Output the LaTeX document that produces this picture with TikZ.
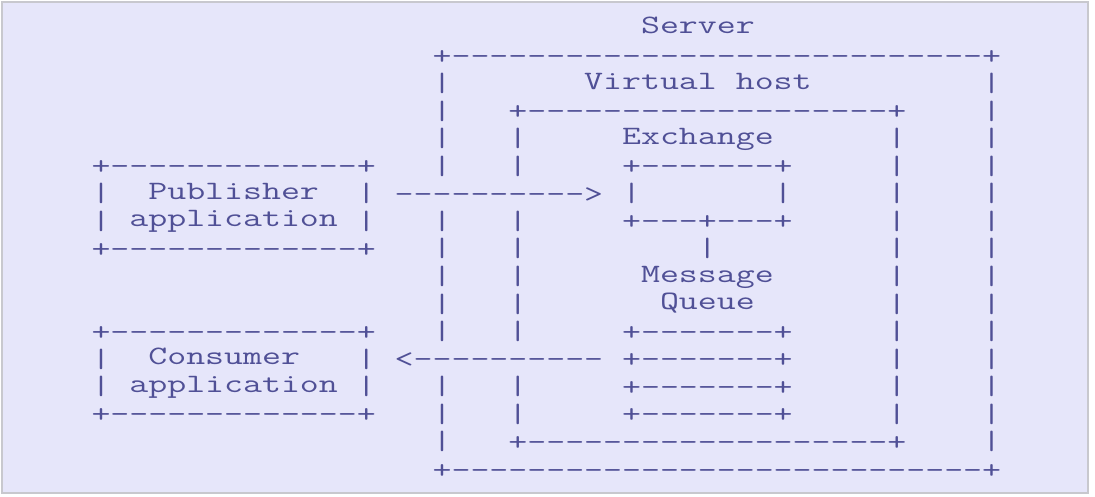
\documentclass[tikz,border=0pt]{standalone}
\usepackage{graphicx}
\ExplSyntaxOn
\cs_new:Npn \DashRun #1 { \prg_replicate:nn {#1} {-{}} }
\ExplSyntaxOff
\definecolor{ink}{RGB}{80,80,150}
\definecolor{lav}{RGB}{230,230,250}
\definecolor{frame}{RGB}{200,200,206}
\newlength\chw
\tikzset{
  asc/.style={anchor=base west, inner sep=0pt, outer sep=0pt, text=ink,
    font=\fontsize{26.5}{26.5}\selectfont\ttfamily},
  barc/.style={asc, anchor=center},
  panel/.style={fill=lav, draw=frame, line width=1.5pt}
}
% text fragment: name, column, row, text
\newcommand\frag[4]{\node[asc] (#1) at ({101+(#2)*18.95-9.475},{34+(#3)*27.5625}) {\scalebox{\sx}[1]{#4}};}
% border/arrow fragment (drawn a little lower)
\newcommand\lfrag[4]{\node[asc] (#1) at ({101+(#2)*18.95-9.475},{37+(#3)*27.5625}) {\scalebox{\sx}[1]{#4}};}
% vertical bar: name, column, row
\newcommand\vbar[3]{\node[barc] (#1) at ({101+(#2)*18.95},{28.3+(#3)*27.5625}) {\scalebox{\sx}[1]{|}};}
\begin{document}
\settowidth\chw{\fontsize{26.5}{26.5}\selectfont\ttfamily x}%
\pgfmathsetmacro\sx{18.95pt/\chw}%
\begin{tikzpicture}[x=1pt,y=-1pt]
\useasboundingbox[fill=white] (0,0) rectangle (1095,497);
\draw[panel] (2,2) rectangle (1088,493);
% server
\frag{server}{29}{0}{Server}
\lfrag{srvtop}{18}{1}{+\DashRun{28}+}
\lfrag{srvbot}{18}{16}{+\DashRun{28}+}
\foreach \r in {2,3,4,5,7,8,9,10,11,13,14,15} {\vbar{sl\r}{18}{\r}}
\foreach \r in {2,...,15} {\vbar{sr\r}{47}{\r}}
% virtual host
\frag{vhost}{26}{2}{Virtual host}
\lfrag{vhtop}{22}{3}{+\DashRun{19}+}
\lfrag{vhbot}{22}{15}{+\DashRun{19}+}
\foreach \r in {4,5,7,8,9,10,11,13,14} {\vbar{vl\r}{22}{\r}}
\foreach \r in {4,...,14} {\vbar{vr\r}{42}{\r}}
% exchange
\frag{exch}{28}{4}{Exchange}
\lfrag{extop}{28}{5}{+\DashRun{7}+}
\vbar{exl}{28}{6}
\vbar{exr}{36}{6}
\lfrag{exbot}{28}{7}{+\DashRun{3}+\DashRun{3}+}
\vbar{exlink}{32}{8}
% queue
\frag{msg}{29}{9}{Message}
\frag{queue}{30}{10}{Queue}
\foreach \r in {11,...,14} {\lfrag{q\r}{28}{\r}{+\DashRun{7}+}}
% publisher
\lfrag{pubtop}{0}{5}{+\DashRun{13}+}
\lfrag{pubbot}{0}{8}{+\DashRun{13}+}
\vbar{publ6}{0}{6}
\vbar{pubr6}{14}{6}
\vbar{publ7}{0}{7}
\vbar{pubr7}{14}{7}
\frag{pubname}{3}{6}{Publisher}
\frag{pubapp}{2}{7}{application}
% consumer
\lfrag{contop}{0}{11}{+\DashRun{13}+}
\lfrag{conbot}{0}{14}{+\DashRun{13}+}
\vbar{conl12}{0}{12}
\vbar{conr12}{14}{12}
\vbar{conl13}{0}{13}
\vbar{conr13}{14}{13}
\frag{conname}{3}{12}{Consumer}
\frag{conapp}{2}{13}{application}
% arrows
\lfrag{pubarrow}{16}{6}{\DashRun{10}>}
\lfrag{conarrow}{16}{12}{<\DashRun{10}}
\end{tikzpicture}
\end{document}
